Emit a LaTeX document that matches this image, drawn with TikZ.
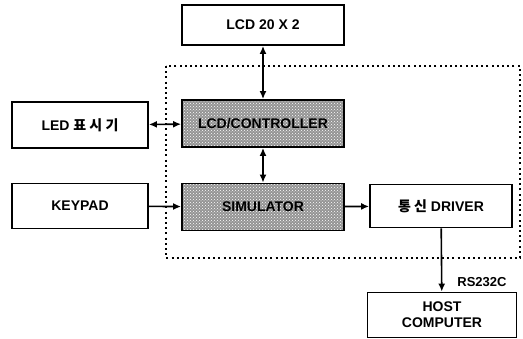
\documentclass[tikz,border=0pt]{standalone}
\usepackage{fontspec}
\setmainfont{Liberation Sans}
\newfontfamily\krfont{Noto Sans CJK KR}
\usetikzlibrary{arrows.meta}
\usetikzlibrary{patterns}
\tikzset{
  block/.style={draw,line width=1.8pt,inner sep=0pt,font=\bfseries\fontsize{14}{16}\selectfont,align=center},
  shaded/.style={block,preaction={fill=black!42},pattern=crosshatch dots,pattern color=white},
  link/.style={line width=1.6pt,{Latex[length=8pt,width=7pt]}-{Latex[length=8pt,width=7pt]}},
  feed/.style={line width=1.6pt,-{Latex[length=8pt,width=7pt]}}
}

\begin{document}
\begin{tikzpicture}[x=1pt,y=-1pt]

\useasboundingbox (0,0) rectangle (523,339);

%% dotted frame
\draw [line width=2pt,dash pattern=on 2pt off 3.2pt] (166,66) rectangle (520,258);

%% blocks
\node [block,minimum width=162pt,minimum height=40pt] (lcd) at (263,25) {LCD 20 X 2};
\node [shaded,minimum width=162pt,minimum height=47pt] (ctrl) at (263,123.5) {LCD/CONTROLLER};
\node [shaded,minimum width=162pt,minimum height=47pt] (sim) at (263,207) {SIMULATOR};
\node [block,minimum width=136pt,minimum height=46pt] (led) at (80,125) {LED {\krfont 표 시 기}};
\node [block,minimum width=136pt,minimum height=45pt] (key) at (80,206) {KEYPAD};
\node [block,minimum width=142pt,minimum height=43pt] (drv) at (441,206) {{\krfont 통 신} DRIVER};
\node [block,minimum width=149pt,minimum height=45pt] (host) at (442,315) {HOST\\COMPUTER};

%% arrows
\draw [link] (lcd) -- (ctrl);
\draw [link] (ctrl) -- (sim);
\draw [link] (led) -- (ctrl);
\draw [feed] (key) -- (sim);
\draw [feed] (sim) -- (drv);
\draw [feed] (drv) -- (host);

% label
\node [font=\bfseries\fontsize{13}{15}\selectfont] (rs) at (482,282) {RS232C};

\end{tikzpicture}
\end{document}
